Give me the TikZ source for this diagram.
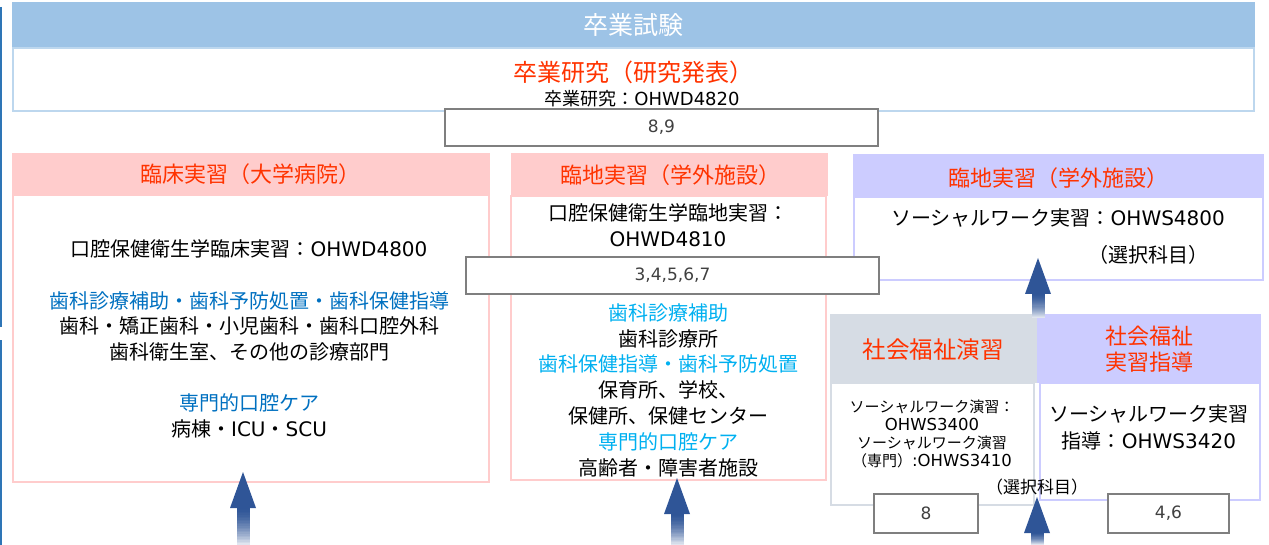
\documentclass[tikz,border=0pt]{standalone}
\usepackage{fontspec}
\setmainfont{Noto Sans CJK JP}
\newfontfamily\latfont{DejaVu Sans}
\newcommand{\lat}[1]{{\latfont #1}}
\usepackage{xcolor}
\definecolor{examblue}{RGB}{157,195,230}
\definecolor{examline}{RGB}{189,215,238}
\definecolor{hdrpink}{RGB}{255,204,204}
\definecolor{hdrlav}{RGB}{204,204,255}
\definecolor{hdrgray}{RGB}{214,220,228}
\definecolor{titlered}{RGB}{255,51,0}
\definecolor{dentblue}{RGB}{0,112,192}
\definecolor{careblue}{RGB}{0,176,240}
\definecolor{boxgray}{RGB}{127,127,127}
\definecolor{numgray}{RGB}{64,64,64}
\definecolor{arrowblue}{RGB}{47,85,151}
\definecolor{sideblue}{RGB}{46,117,182}
% block arrow: #1 tip, #2 shaft length below the head (fades downwards)
\newcommand{\blockarrow}[2]{%
  \foreach \k [evaluate=\k as \pct using 100-85*(\k/23)^1.6] in {0,...,23}
    \fill [arrowblue!\pct] (#1) ++(-6.5,35+#2*\k/24) rectangle ++(13,#2/24+0.3);
  \fill [arrowblue] (#1) -- ++(13,36) -- ++(-26,0) -- cycle;
}

\begin{document}
\begin{tikzpicture}[x=1pt,y=1pt,yscale=-1,xscale=1,
  hdrtext/.style={text=titlered,font=\fontsize{22}{26}\selectfont,inner sep=0.75pt,align=center},
  bodytext/.style={font=\fontsize{20}{25.5}\selectfont,inner sep=0.75pt,align=center},
  numbox/.style={draw=boxgray,line width=2.4pt,fill=white,inner sep=0pt,text=numgray,font=\latfont\fontsize{17}{20}\selectfont}]
\useasboundingbox (0,0) rectangle (1269,545);

%Shape: side line
\draw [sideblue, line width=2.5] (1,7) -- (1,327);
\draw [sideblue, line width=2.5] (1,340) -- (1,545);

%Shape: graduation exam and thesis
\fill [examblue] (12,2) rectangle (1255,48);
\draw [examline, line width=2] (13,48) rectangle (1254,111);
% Text Node
\node (exam) [text=white, font=\fontsize{25}{28}\selectfont] at (633,25) {卒業試験};
\node (thesis) [hdrtext, font=\fontsize{24}{28}\selectfont] at (633,72) {卒業研究（研究発表）};
\node (thesiscode) [font=\fontsize{18}{20}\selectfont, inner sep=0.75pt] at (642,99) {卒業研究：\lat{OHWD4820}};
\node (sem89) [numbox, minimum width=433, minimum height=37] at (661.5,127.5) {8,9};

%Shape: clinical practice (university hospital)
\fill [hdrpink] (12,153) rectangle (490,195);
\draw [hdrpink, line width=2] (13,195) rectangle (489,482);
\node (clinhdr) [hdrtext] at (250,174) {臨床実習（大学病院）};
\node (clinbody) [bodytext] at (249,339) {口腔保健衛生学臨床実習：\lat{OHWD4800}\\[26pt]
  \textcolor{dentblue}{歯科診療補助・歯科予防処置・歯科保健指導}\\
  歯科・矯正歯科・小児歯科・歯科口腔外科\\
  歯科衛生室、その他の診療部門\\[26pt]
  \textcolor{dentblue}{専門的口腔ケア}\\
  病棟・\lat{ICU}・\lat{SCU}};

%Shape: field practice (outside facilities)
\fill [hdrpink] (511,153) rectangle (828,196);
\draw [hdrpink, line width=2] (511,196) rectangle (826,480);
\node (fieldhdr) [hdrtext] at (670,175) {臨地実習（学外施設）};
\node (fieldcode) [bodytext] at (668,225) {口腔保健衛生学臨地実習：\\\lat{OHWD4810}};
\node (fieldbody) [bodytext, font=\fontsize{20}{25.8}\selectfont] at (668,390) {\textcolor{careblue}{歯科診療補助}\\
  歯科診療所\\
  \textcolor{careblue}{歯科保健指導・歯科予防処置}\\
  保育所、学校、\\
  保健所、保健センター\\
  \textcolor{careblue}{専門的口腔ケア}\\
  高齢者・障害者施設};

%Shape: social work field practice
\fill [hdrlav] (853,154) rectangle (1264,197);
\draw [hdrlav, line width=2] (854,197) rectangle (1263,280);
\node (swhdr) [hdrtext] at (1058,178) {臨地実習（学外施設）};
\node (swcode) [bodytext] at (1058,218) {ソーシャルワーク実習：\lat{OHWS4800}};
\node (swopt) [bodytext] at (1148,255) {（選択科目）};

\node (sem34567) [numbox, minimum width=413, minimum height=37] at (672.5,275.5) {3,4,5,6,7};

%Shape: social welfare seminar / practice guidance
\fill [hdrgray] (830,314) rectangle (1037,383);
\draw [hdrgray, line width=2] (831,383) rectangle (1034,505);
\fill [hdrlav] (1037,314) rectangle (1261,383);
\draw [hdrlav, line width=2] (1040,383) rectangle (1260,500);
\node (semhdr) [hdrtext, font=\fontsize{23.5}{26}\selectfont] at (933,350) {社会福祉演習};
\node (guidehdr) [hdrtext] at (1149,349) {社会福祉\\実習指導};
\node (semcode) [font=\fontsize{15}{18}\selectfont, inner sep=0.75pt, align=center] at (932,434) {ソーシャルワーク演習：\\\lat{\fontsize{16.5}{18}\selectfont OHWS3400}\\ソーシャルワーク演習\\（専門）\lat{\fontsize{16.5}{18}\selectfont :OHWS3410}};
\node (guidecode) [bodytext, font=\fontsize{20}{27}\selectfont] at (1149,427) {ソーシャルワーク実習\\指導：\lat{OHWS3420}};
\node (guideopt) [font=\fontsize{17}{20}\selectfont, inner sep=0.75pt] at (1037,487) {（選択科目）};
\node (sem8) [numbox, minimum width=104, minimum height=39] at (926,513.5) {8};
\node (sem46) [numbox, minimum width=121, minimum height=39] at (1168.5,513.5) {4,6};

%Arrows
\coordinate (clintip) at (243,472);
\coordinate (fieldtip) at (677,478);
\coordinate (swtip) at (1038,258);
\coordinate (semtip) at (1037,497);
\blockarrow{clintip}{38}
\blockarrow{fieldtip}{32}
\blockarrow{swtip}{25}
\blockarrow{semtip}{13}

\end{tikzpicture}
\end{document}
